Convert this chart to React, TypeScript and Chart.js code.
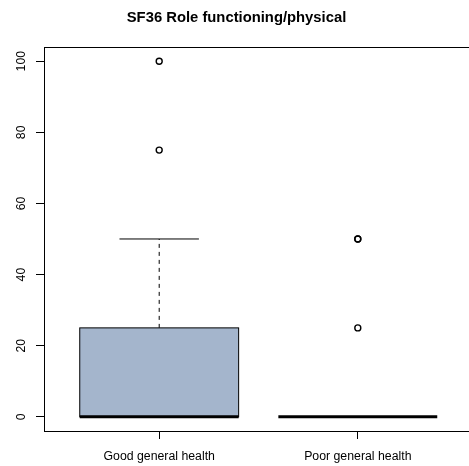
import React, { useEffect, useRef } from "react";
import { Chart, registerables } from "chart.js";

Chart.register(...registerables);

const title = "SF36 Role functioning/physical";
const categories = ["Good general health", "Poor general health"];
const lowerWhisker = [0, 0];
const firstQuartile = [0, 0];
const medians = [0, 0];
const thirdQuartile = [25, 0];
const upperWhisker = [50, 0];
const outliersGood = [75, 100];
const outliersPoor = [25, 50, 50];
const yTicks = [0, 20, 40, 60, 80, 100];

const FONT = "'Liberation Sans', Arial, Helvetica, sans-serif";
const BOX_FILL = "#a4b5cc";

const boxPlugin = {
  id: "rbox",
  beforeDatasetsDraw(chart: any) {
    const { ctx, scales } = chart;
    const xs = scales.x;
    const ys = scales.y;
    const halfBox = xs.getPixelForValue(1.4) - xs.getPixelForValue(1);
    const halfStaple = xs.getPixelForValue(1.2) - xs.getPixelForValue(1);
    ctx.save();
    categories.forEach((_, i) => {
      const cx = xs.getPixelForValue(i + 1);
      const yLo = ys.getPixelForValue(lowerWhisker[i]);
      const yQ1 = ys.getPixelForValue(firstQuartile[i]);
      const yMed = ys.getPixelForValue(medians[i]);
      const yQ3 = ys.getPixelForValue(thirdQuartile[i]);
      const yHi = ys.getPixelForValue(upperWhisker[i]);
      ctx.strokeStyle = "#000";
      ctx.lineWidth = 1;
      // whiskers
      ctx.setLineDash([4, 4]);
      ctx.beginPath();
      if (yHi !== yQ3) {
        ctx.moveTo(cx, yQ3);
        ctx.lineTo(cx, yHi);
      }
      if (yLo !== yQ1) {
        ctx.moveTo(cx, yQ1);
        ctx.lineTo(cx, yLo);
      }
      ctx.stroke();
      ctx.setLineDash([]);
      // staples
      ctx.beginPath();
      ctx.moveTo(cx - halfStaple, yHi);
      ctx.lineTo(cx + halfStaple, yHi);
      ctx.moveTo(cx - halfStaple, yLo);
      ctx.lineTo(cx + halfStaple, yLo);
      ctx.stroke();
      // box
      if (yQ1 !== yQ3) {
        ctx.fillStyle = BOX_FILL;
        ctx.fillRect(cx - halfBox, yQ3, halfBox * 2, yQ1 - yQ3);
        ctx.strokeRect(cx - halfBox, yQ3, halfBox * 2, yQ1 - yQ3);
      }
      // median
      ctx.lineWidth = 3;
      ctx.lineCap = "butt";
      ctx.beginPath();
      ctx.moveTo(cx - halfBox, yMed);
      ctx.lineTo(cx + halfBox, yMed);
      ctx.stroke();
    });
    ctx.restore();
  },
  afterDraw(chart: any) {
    const { ctx, chartArea } = chart;
    ctx.save();
    ctx.strokeStyle = "#000";
    ctx.lineWidth = 1;
    const l = Math.round(chartArea.left) + 0.5;
    const t = Math.round(chartArea.top) + 0.5;
    const r = Math.round(chartArea.right) + 0.5;
    const b = Math.round(chartArea.bottom) + 0.5;
    ctx.strokeRect(l, t, r - l, b - t);
    ctx.restore();
  },
};

export default function App() {
  const ref = useRef<HTMLCanvasElement>(null);
  useEffect(() => {
    if (!ref.current) return;
    const pts = [
      ...outliersGood.map((v) => ({ x: 1, y: v })),
      ...outliersPoor.map((v) => ({ x: 2, y: v })),
    ];
    const chart = new Chart(ref.current, {
      type: "scatter",
      data: {
        datasets: [
          {
            data: pts,
            pointRadius: 3,
            pointHoverRadius: 3,
            borderWidth: 1.4,
            borderColor: "#000",
            backgroundColor: "rgba(0,0,0,0)",
          },
        ],
      },
      options: {
        animation: false,
        responsive: false,
        devicePixelRatio: 1,
        layout: { padding: { left: 0, right: 44, top: 0, bottom: 0 } },
        plugins: {
          legend: { display: false },
          tooltip: { enabled: false },
          title: {
            display: true,
            text: title,
            color: "#000",
            font: { family: FONT, size: 14.8, weight: "bold" },
            padding: { top: 9.3, bottom: 19.9 },
          },
        },
        scales: {
          x: {
            type: "linear",
            position: "bottom",
            min: 0.42,
            max: 2.58,
            afterBuildTicks: (s: any) => {
              s.ticks = categories.map((_, i) => ({ value: i + 1 }));
            },
            afterFit: (s: any) => {
              s.height = 35;
            },
            grid: {
              drawOnChartArea: false,
              drawTicks: true,
              tickLength: 8,
              color: "#000",
              lineWidth: 1,
            },
            border: { display: false },
            ticks: {
              autoSkip: false,
              maxRotation: 0,
              minRotation: 0,
              padding: 10,
              color: "#000",
              font: { family: FONT, size: 12.3 },
              callback: (v: any) => categories[Math.round(Number(v)) - 1] ?? "",
            },
          },
          y: {
            type: "linear",
            position: "left",
            min: -4,
            max: 104,
            afterBuildTicks: (s: any) => {
              s.ticks = yTicks.map((v) => ({ value: v }));
            },
            afterFit: (s: any) => {
              s.width = 44;
            },
            grid: {
              drawOnChartArea: false,
              drawTicks: true,
              tickLength: 8,
              color: "#000",
              lineWidth: 1,
            },
            border: { display: false },
            ticks: {
              minRotation: 90,
              maxRotation: 90,
              crossAlign: "center",
              padding: 4,
              color: "#000",
              font: { family: FONT, size: 12.3 },
              callback: (v: any) => String(v),
            },
          },
        },
      },
      plugins: [boxPlugin],
    } as any);
    return () => chart.destroy();
  }, []);
  return (
    <div
      style={{
        position: "fixed",
        left: 0,
        top: 0,
        width: 469,
        height: 466,
        overflow: "hidden",
        background: "#fff",
      }}
    >
      <canvas ref={ref} width={517} height={466} style={{ display: "block" }} />
    </div>
  );
}
